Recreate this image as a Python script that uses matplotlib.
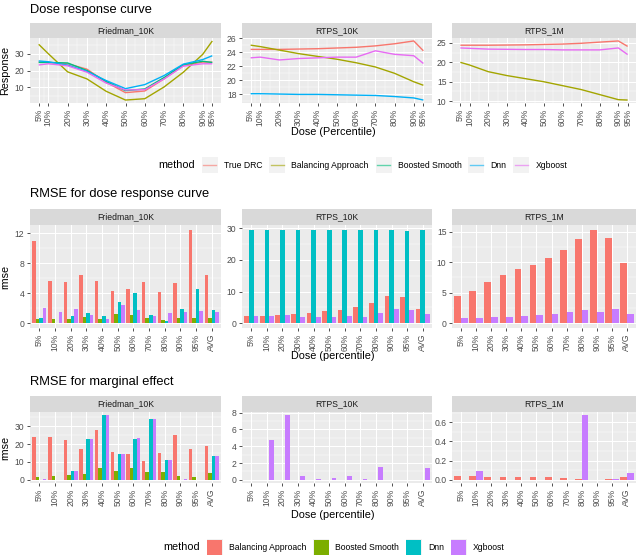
import matplotlib
matplotlib.use("Agg")
import numpy as np
import matplotlib.pyplot as plt
from matplotlib.patches import Rectangle
from matplotlib.lines import Line2D

plt.rcParams['font.family'] = ['Liberation Sans', 'DejaVu Sans']

# ---- data -------------------------------------------------------------
pct = [5, 10, 20, 30, 40, 50, 60, 70, 80, 90, 95]
dose_labels = ["5%", "10%", "20%", "30%", "40%", "50%", "60%", "70%", "80%", "90%", "95%"]
bar_labels = dose_labels + ["AVG"]
datasets = ["Friedman_10K", "RTPS_10K", "RTPS_1M"]

line_methods = ["True DRC", "Balancing Approach", "Boosted Smooth", "Dnn", "Xgboost"]
line_colors = ["#F8766D", "#A3A500", "#00BF7D", "#00B0F6", "#E76BF3"]
bar_methods = ["Balancing Approach", "Boosted Smooth", "Dnn", "Xgboost"]
bar_colors = ["#F8766D", "#7CAE00", "#00BFC4", "#C77CFF"]

# dose response curves
drc_fried_true = [25.0, 24.8, 24.0, 20.8, 13.0, 6.8, 7.8, 15.0, 23.0, 25.0, 25.0]
drc_fried_bal = [35.6, 30.0, 19.2, 15.0, 7.6, 2.4, 3.2, 10.2, 19.0, 29.6, 37.6]
drc_fried_boost = [24.8, 24.8, 24.5, 20.0, 13.5, 8.0, 9.0, 15.8, 23.5, 25.5, 24.8]
drc_fried_dnn = [25.7, 25.2, 23.2, 19.5, 14.0, 9.2, 11.6, 17.0, 23.8, 26.5, 28.8]
drc_fried_xgb = [23.3, 24.0, 22.8, 19.0, 12.5, 8.4, 8.6, 15.0, 22.6, 24.0, 24.0]

drc_r10_true = [24.4, 24.4, 24.4, 24.45, 24.5, 24.6, 24.7, 24.9, 25.2, 25.6, 24.2]
drc_r10_bal = [25.0, 24.8, 24.3, 23.8, 23.4, 23.0, 22.5, 21.9, 21.0, 19.8, 19.3]
drc_r10_dnn = [18.1, 18.1, 18.05, 18.0, 18.0, 17.95, 17.9, 17.85, 17.7, 17.5, 17.2]
drc_r10_xgb = [23.2, 23.3, 22.9, 23.1, 23.2, 23.3, 23.3, 24.2, 23.7, 23.5, 22.4]

drc_r1m_true = [24.4, 24.4, 24.4, 24.45, 24.5, 24.6, 24.7, 24.9, 25.2, 25.5, 24.1]
drc_r1m_bal = [20.0, 19.3, 17.6, 16.6, 15.8, 15.0, 14.0, 13.0, 11.7, 10.4, 10.3]
drc_r1m_xgb = [23.7, 23.6, 23.4, 23.35, 23.3, 23.3, 23.2, 23.2, 23.2, 23.7, 22.0]

# RMSE for dose response curve (5% ... 95%, AVG)
rmse_fried_bal = [11.0, 5.65, 5.45, 6.4, 5.65, 4.35, 4.6, 5.55, 4.2, 5.35, 12.5, 6.4]
rmse_fried_boost = [0.6, 0.55, 0.55, 0.85, 0.55, 1.25, 1.15, 0.7, 0.45, 0.65, 0.65, 0.75]
rmse_fried_dnn = [0.75, 0.0, 1.0, 1.4, 1.0, 2.8, 4.0, 1.1, 0.25, 1.9, 4.6, 1.75]
rmse_fried_xgb = [2.1, 1.5, 1.95, 1.1, 0.55, 2.4, 1.8, 0.95, 1.35, 1.45, 1.6, 1.5]

rmse_r10_bal = [2.2, 2.2, 2.5, 2.9, 3.3, 3.8, 4.35, 5.1, 6.35, 8.5, 8.2, 4.65]
rmse_r10_dnn = [29.5, 29.5, 29.5, 29.5, 29.5, 29.5, 29.5, 29.5, 29.5, 29.5, 29.1, 29.5]
rmse_r10_xgb = [2.2, 2.2, 2.5, 2.0, 2.0, 2.0, 2.3, 2.0, 3.3, 4.65, 4.15, 2.85]

rmse_r1m_bal = [4.5, 5.3, 6.8, 7.85, 8.8, 9.55, 10.65, 12.0, 13.8, 15.3, 13.9, 9.9]
rmse_r1m_xgb = [0.8, 0.8, 1.05, 1.05, 1.2, 1.3, 1.6, 1.8, 2.15, 1.8, 2.4, 1.45]

# RMSE for marginal effect
me_fried_bal = [24.0, 24.2, 22.1, 17.0, 27.9, 15.8, 14.3, 10.8, 15.1, 24.9, 17.5, 19.2]
me_fried_boost = [1.5, 1.9, 2.6, 3.2, 6.4, 5.1, 6.4, 4.2, 4.5, 1.9, 1.5, 3.8]
me_fried_dnn = [0.0, 0.0, 5.1, 22.6, 36.2, 14.7, 23.0, 34.3, 10.9, 0.0, 0.0, 13.4]
me_fried_xgb = [0.5, 0.0, 5.1, 22.6, 36.2, 14.7, 23.6, 34.3, 11.3, 0.5, 0.0, 13.4]

me_r10_bal = [0.0] * 12
me_r10_dnn = [0.0] * 12
me_r10_xgb = [0.0, 4.7, 7.7, 0.4, 0.12, 0.2, 0.4, 0.1, 1.5, 0.0, 0.0, 1.4]

me_r1m_bal = [0.039, 0.04, 0.033, 0.033, 0.026, 0.026, 0.025, 0.018, 0.008, 0.002, 0.007, 0.025]
me_r1m_xgb = [0.0, 0.092, 0.0, 0.0, 0.0, 0.0, 0.0, 0.0, 0.674, 0.0, 0.006, 0.066]

drc_panels = [
    {"True DRC": drc_fried_true, "Balancing Approach": drc_fried_bal,
     "Boosted Smooth": drc_fried_boost, "Dnn": drc_fried_dnn, "Xgboost": drc_fried_xgb},
    {"True DRC": drc_r10_true, "Balancing Approach": drc_r10_bal,
     "Dnn": drc_r10_dnn, "Xgboost": drc_r10_xgb},
    {"True DRC": drc_r1m_true, "Balancing Approach": drc_r1m_bal, "Xgboost": drc_r1m_xgb},
]
rmse_panels = [
    {"Balancing Approach": rmse_fried_bal, "Boosted Smooth": rmse_fried_boost,
     "Dnn": rmse_fried_dnn, "Xgboost": rmse_fried_xgb},
    {"Balancing Approach": rmse_r10_bal, "Dnn": rmse_r10_dnn, "Xgboost": rmse_r10_xgb},
    {"Balancing Approach": rmse_r1m_bal, "Xgboost": rmse_r1m_xgb},
]
me_panels = [
    {"Balancing Approach": me_fried_bal, "Boosted Smooth": me_fried_boost,
     "Dnn": me_fried_dnn, "Xgboost": me_fried_xgb},
    {"Balancing Approach": me_r10_bal, "Dnn": me_r10_dnn, "Xgboost": me_r10_xgb},
    {"Balancing Approach": me_r1m_bal, "Xgboost": me_r1m_xgb},
]

# ---- layout (pixels) --------------------------------------------------
W, H = 639, 559
fig = plt.figure(figsize=(W / 100, H / 100), dpi=100)
col_x = [(30, 221), (242, 432), (452, 636)]


def fbox(x0, y0, x1, y1):
    return [x0 / W, 1 - y1 / H, (x1 - x0) / W, (y1 - y0) / H]


def minors(major, lo, hi):
    step = major[1] - major[0]
    ext = [major[0] - step] + list(major) + [major[-1] + step]
    mids = [(a + b) / 2 for a, b in zip(ext[:-1], ext[1:])]
    return [m for m in mids if lo <= m <= hi]


def strip(x0, x1, y0, y1, label):
    s = fig.add_axes(fbox(x0, y0, x1, y1))
    s.set_facecolor('#D9D9D9')
    s.set_xticks([]); s.set_yticks([])
    for sp in s.spines.values():
        sp.set_visible(False)
    s.text(0.5, 0.5, label, ha='center', va='center', fontsize=6.2, color='#1A1A1A',
           transform=s.transAxes)


def panel(x0, x1, y0, y1, ylim, yticks, ylabels):
    ax = fig.add_axes(fbox(x0, y0, x1, y1))
    ax.set_facecolor('#EBEBEB')
    for sp in ax.spines.values():
        sp.set_visible(False)
    ax.set_ylim(ylim)
    ax.set_yticks(yticks)
    ax.set_yticklabels(ylabels)
    ax.set_yticks(minors(yticks, *ylim), minor=True)
    ax.grid(which='major', color='white', lw=0.75)
    ax.grid(which='minor', color='white', lw=0.35)
    ax.set_axisbelow(True)
    ax.tick_params(which='major', length=2.5, width=0.6, color='#333333',
                   labelcolor='#4D4D4D', labelsize=6.2, pad=1.5)
    ax.tick_params(which='minor', length=0)
    return ax


def padded(vals, include_zero=False):
    v = np.concatenate([np.asarray(a, float) for a in vals])
    lo, hi = np.nanmin(v), np.nanmax(v)
    if include_zero:
        lo = min(lo, 0.0)
    p = 0.05 * (hi - lo)
    return (lo - p, hi + p)


# ---- row 1: dose response curve --------------------------------------
r1_ticks = [[10, 20, 30], [18, 20, 22, 24, 26], [10, 15, 20, 25]]
for i, data in enumerate(drc_panels):
    x0, x1 = col_x[i]
    strip(x0, x1, 23, 38, datasets[i])
    ylim = padded(list(data.values()))
    ax = panel(x0, x1, 38, 103, ylim, r1_ticks[i], [str(t) for t in r1_ticks[i]])
    xl = (pct[0] - 0.05 * (pct[-1] - pct[0]), pct[-1] + 0.05 * (pct[-1] - pct[0]))
    ax.set_xlim(xl)
    ax.set_xticks(pct)
    ax.set_xticklabels(dose_labels, rotation=90, va='top', ha='center')
    ax.set_xticks([(a + b) / 2 for a, b in zip(pct[:-1], pct[1:])], minor=True)
    for m, c in zip(line_methods, line_colors):
        if m in data:
            ax.plot(pct, data[m], color=c, lw=1.0, solid_capstyle='butt')
    if i == 0:
        ax.set_ylabel("Response", fontsize=7.8, labelpad=3)

fig.text(333 / W, 1 - 10 / H, "", fontsize=1)
fig.text(30 / W, 1 - 10 / H, "Dose response curve", fontsize=9.3, va='center', ha='left')
fig.text(333 / W, 1 - 132 / H, "Dose (Percentile)", fontsize=7.8, va='center', ha='center')


# ---- rows 2 and 3: bar charts ----------------------------------------
def bar_row(panels, tick_sets, strip_y, panel_y, title_y, xlabel_y, title):
    xs = np.arange(1, len(bar_labels) + 1)
    for i, data in enumerate(panels):
        x0, x1 = col_x[i]
        strip(x0, x1, strip_y[0], strip_y[1], datasets[i])
        ylim = padded(list(data.values()), include_zero=True)
        ticks = tick_sets[i]
        ax = panel(x0, x1, panel_y[0], panel_y[1], ylim, ticks[0], ticks[1])
        ax.set_xlim(0.4, len(bar_labels) + 0.6)
        ax.set_xticks(xs)
        ax.set_xticklabels(bar_labels, rotation=90, va='top', ha='center')
        present = [m for m in bar_methods if m in data]
        n = len(present)
        w = 0.9 / n
        for j, m in enumerate(present):
            c = bar_colors[bar_methods.index(m)]
            ax.bar(xs + (j - (n - 1) / 2) * w, data[m], width=w, color=c, lw=0)
        if i == 0:
            ax.set_ylabel("rmse", fontsize=7.8, labelpad=3)
    fig.text(30 / W, 1 - title_y / H, title, fontsize=9.3, va='center', ha='left')
    fig.text(333 / W, 1 - xlabel_y / H, "Dose (percentile)", fontsize=7.8, va='center', ha='center')


bar_row(rmse_panels,
        [([0, 4, 8, 12], ["0", "4", "8", "12"]),
         ([0, 10, 20, 30], ["0", "10", "20", "30"]),
         ([0, 5, 10, 15], ["0", "5", "10", "15"])],
        (209, 225), (225, 328), 194, 356, "RMSE for dose response curve")
bar_row(me_panels,
        [([0, 10, 20, 30], ["0", "10", "20", "30"]),
         ([0, 2, 4, 6, 8], ["0", "2", "4", "6", "8"]),
         ([0.0, 0.2, 0.4, 0.6], ["0.0", "0.2", "0.4", "0.6"])],
        (396, 412), (412, 483), 382, 515, "RMSE for marginal effect")


# ---- legends ---------------------------------------------------------
def legend(x_start, y_c, labels, colors, kind):
    r = fig.canvas.get_renderer()
    t = fig.text(x_start / W, 1 - y_c / H, "method", fontsize=7.8, va='center', ha='left')
    x = x_start + t.get_window_extent(r).width + 7
    for lab, col in zip(labels, colors):
        fig.add_artist(Rectangle((x / W, 1 - (y_c + 8) / H), 16 / W, 16 / H,
                                 transform=fig.transFigure, facecolor='#F2F2F2', lw=0))
        if kind == 'line':
            fig.add_artist(Line2D([(x + 1.5) / W, (x + 14.5) / W], [1 - y_c / H] * 2,
                                  transform=fig.transFigure, color=col, lw=1.0, alpha=0.6))
        else:
            fig.add_artist(Rectangle(((x + 0.5) / W, 1 - (y_c + 7.5) / H), 15 / W, 15 / H,
                                     transform=fig.transFigure, facecolor=col, lw=0))
        tt = fig.text((x + 22) / W, 1 - y_c / H, lab, fontsize=6.2, va='center', ha='left')
        x += 22 + tt.get_window_extent(r).width + 7


legend(158, 165, line_methods, line_colors, 'line')
legend(163, 547, bar_methods, bar_colors, 'fill')

fig.savefig("out.png", dpi=100)
